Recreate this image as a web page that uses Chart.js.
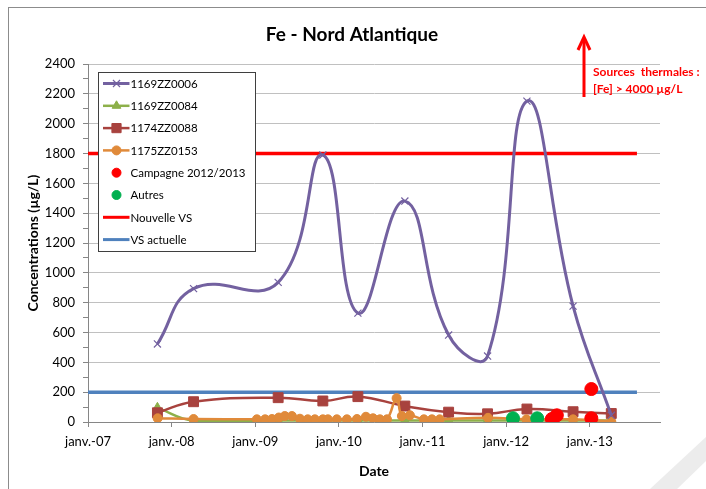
<!DOCTYPE html>
<html>
<head>
<meta charset="utf-8">
<script src="https://cdn.jsdelivr.net/npm/chart.js@4.4.1/dist/chart.umd.min.js"></script>
<style>
  html, body { margin: 0; padding: 0; background: #fff; }
  canvas { display: block; }
</style>
</head>
<body>
<canvas id="chart" width="706" height="489"></canvas>
<script>
const FONT = 'Lato, "Open Sans", "Liberation Sans", sans-serif';

// Sampling dates shared by the monitored wells 1169ZZ0006 / 1169ZZ0084 / 1174ZZ0088
const wellDates = ['2007-10-31', '2008-04-06', '2009-04-11', '2009-10-23', '2010-03-25',
                   '2010-10-16', '2011-04-25', '2011-10-12', '2012-04-01', '2012-10-20', '2013-04-05'];
const s1169ZZ0006 = [523, 894, 936, 1790, 730, 1481, 583, 442, 2151, 777, 45];
const s1169ZZ0084 = [95, 10, 10, 10, 10, 10, 10, 10, 10, 10, 10];
const s1174ZZ0088 = [62, 136, 163, 141, 170, 107, 66, 55, 87, 69, 57];

// 1175ZZ0153 was sampled much more often
const datesZZ0153 = ['2007-11-01', '2008-04-06', '2009-01-08', '2009-02-13', '2009-03-15', '2009-04-14',
                     '2009-05-10', '2009-06-10', '2009-07-15', '2009-08-18', '2009-09-18', '2009-10-23',
                     '2009-11-14', '2009-12-23', '2010-02-05', '2010-03-21', '2010-04-29', '2010-05-30',
                     '2010-06-29', '2010-07-30', '2010-09-10', '2010-10-03', '2010-11-07', '2011-01-07',
                     '2011-02-11', '2011-03-17', '2011-10-14', '2012-03-30', '2012-10-20', '2013-04-05'];
const s1175ZZ0153 = [25, 20, 18, 18, 20, 30, 40, 40, 22, 18, 18, 18,
                     18, 18, 18, 20, 35, 25, 18, 18, 160, 40, 45, 18,
                     18, 18, 28, 18, 18, 3];

// 2012/2013 campaign and other points
const campagneDates = ['2012-07-19', '2012-08-10', '2013-01-08', '2013-01-08'];
const campagneValues = [20, 45, 221, 25];
const autresDates = ['2012-01-31', '2012-05-16'];
const autresValues = [25, 25];

// Reference thresholds (VS)
const vsDates = ['2007-01-01', '2013-07-26'];
const nouvelleVS = [1800, 1800];
const vsActuelle = [200, 200];

// Axis ticks
const yearTicks = [2007, 2008, 2009, 2010, 2011, 2012, 2013];
const concTicks = [];
for (let v = 0; v <= 2400; v += 100) concTicks.push(v);

// ISO date -> fractional year, for the linear date axis
function decYear(s) {
  const d = new Date(s + 'T00:00:00Z');
  const y = d.getUTCFullYear();
  const a = Date.UTC(y, 0, 1), b = Date.UTC(y + 1, 0, 1);
  return y + (d.getTime() - a) / (b - a);
}
function pts(dates, values) {
  return dates.map((d, i) => ({ x: decYear(d), y: values[i] }));
}

const PURPLE = '#7361A0';
const GREEN = '#8DB04A';
const BROWN = '#A8423E';
const ORANGE = '#E08A3A';

const datasets = [
  { label: '1169ZZ0006', data: pts(wellDates, s1169ZZ0006), borderColor: PURPLE, backgroundColor: PURPLE,
    borderWidth: 3, tension: 0.45, pointStyle: 'crossRot', pointRadius: 5, pointBorderWidth: 1.2,
    pointBorderColor: PURPLE, pointBackgroundColor: PURPLE, order: 3 },
  { label: '1169ZZ0084', data: pts(wellDates, s1169ZZ0084), borderColor: GREEN, backgroundColor: GREEN,
    borderWidth: 2.5, tension: 0.45, pointStyle: 'triangle', pointRadius: 5.5, pointBorderWidth: 1,
    pointBorderColor: GREEN, pointBackgroundColor: GREEN, order: 6 },
  { label: '1174ZZ0088', data: pts(wellDates, s1174ZZ0088), borderColor: BROWN, backgroundColor: BROWN,
    borderWidth: 2.5, tension: 0.45, pointStyle: 'rect', pointRadius: 7, pointBorderWidth: 1,
    pointBorderColor: BROWN, pointBackgroundColor: BROWN, order: 5 },
  { label: '1175ZZ0153', data: pts(datesZZ0153, s1175ZZ0153), borderColor: ORANGE, backgroundColor: ORANGE,
    borderWidth: 2.5, tension: 0.45, pointStyle: 'circle', pointRadius: 4.5, pointBorderWidth: 1,
    pointBorderColor: ORANGE, pointBackgroundColor: ORANGE, order: 4 },
  { label: 'Campagne 2012/2013', data: pts(campagneDates, campagneValues), showLine: false,
    pointStyle: 'circle', pointRadius: 6.5, pointBorderWidth: 1, borderColor: '#FF0000',
    pointBorderColor: '#FF0000', pointBackgroundColor: '#FF0000', backgroundColor: '#FF0000', order: 1 },
  { label: 'Autres', data: pts(autresDates, autresValues), showLine: false,
    pointStyle: 'circle', pointRadius: 6.5, pointBorderWidth: 1, borderColor: '#00B050',
    pointBorderColor: '#00B050', pointBackgroundColor: '#00B050', backgroundColor: '#00B050', order: 1 },
  { label: 'Nouvelle VS', data: pts(vsDates, nouvelleVS), borderColor: '#FF0000', backgroundColor: '#FF0000',
    borderWidth: 3.5, pointRadius: 0, tension: 0, order: 8 },
  { label: 'VS actuelle', data: pts(vsDates, vsActuelle), borderColor: '#4F81BD', backgroundColor: '#4F81BD',
    borderWidth: 3.5, pointRadius: 0, tension: 0, order: 9 }
];

// Frame, watermark corner, title and thermal-springs note
const decorations = {
  id: 'decorations',
  beforeDraw(chart) {
    const ctx = chart.ctx;
    ctx.save();
    ctx.fillStyle = '#ffffff';
    ctx.fillRect(0, 0, chart.width, chart.height);
    ctx.fillStyle = '#ECECEC';
    ctx.beginPath();
    ctx.moveTo(650, 489); ctx.lineTo(706, 437); ctx.lineTo(706, 461); ctx.lineTo(677, 489);
    ctx.closePath(); ctx.fill();
    ctx.strokeStyle = '#8C8C8C';
    ctx.lineWidth = 1;
    ctx.strokeRect(8.5, 7.5, 720, 500);
    ctx.restore();
  },
  afterDraw(chart) {
    const ctx = chart.ctx;
    ctx.save();
    ctx.fillStyle = '#000';
    ctx.font = 'bold 19px ' + FONT;
    ctx.textAlign = 'center';
    ctx.textBaseline = 'middle';
    ctx.fillText('Fe - Nord Atlantique', 352, 35);

    // arrow
    ctx.strokeStyle = '#FF0000';
    ctx.lineWidth = 3;
    ctx.beginPath();
    ctx.moveTo(584, 97); ctx.lineTo(584, 38);
    ctx.stroke();
    ctx.beginPath();
    ctx.moveTo(578, 50); ctx.lineTo(584, 37); ctx.lineTo(590, 50);
    ctx.stroke();

    ctx.fillStyle = '#FF0000';
    ctx.font = 'bold 12px ' + FONT;
    ctx.textAlign = 'left';
    ctx.textBaseline = 'alphabetic';
    ctx.fillText('Sources  thermales :', 593, 76);
    ctx.fillText('[Fe] > 4000 \u00B5g/L', 593, 93);
    ctx.restore();
  }
};

// Boxed legend inside the plot area
const boxLegend = {
  id: 'boxLegend',
  afterDatasetsDraw(chart) {
    const ctx = chart.ctx;
    const L = 98.5, T = 72.5, W = 157, H = 179;
    ctx.save();
    ctx.fillStyle = '#ffffff';
    ctx.fillRect(L, T, W, H);
    ctx.strokeStyle = '#3F3F3F';
    ctx.lineWidth = 1;
    ctx.strokeRect(L, T, W, H);
    chart.data.datasets.forEach((ds, i) => {
      const cy = 83.5 + i * 22.3;
      if (ds.showLine !== false) {
        ctx.strokeStyle = ds.borderColor;
        ctx.lineWidth = Math.min(ds.borderWidth, 3);
        ctx.beginPath();
        ctx.moveTo(103, cy); ctx.lineTo(129.5, cy);
        ctx.stroke();
      }
      if (ds.pointRadius > 0) {
        ctx.fillStyle = ds.pointBackgroundColor;
        ctx.strokeStyle = ds.pointBorderColor;
        ctx.lineWidth = ds.pointBorderWidth || 1;
        const r = ds.pointStyle === 'rect' ? 6.5 : (ds.showLine === false ? 4.5 : Math.min(ds.pointRadius, 5));
        Chart.helpers.drawPoint(ctx, { pointStyle: ds.pointStyle, radius: r, rotation: 0,
          borderWidth: ds.pointBorderWidth || 1 }, 116.5, cy);
      }
      ctx.fillStyle = '#000';
      ctx.font = '11.5px ' + FONT;
      ctx.textAlign = 'left';
      ctx.textBaseline = 'middle';
      ctx.fillText(ds.label, 130.5, cy + 0.5);
    });
    ctx.restore();
  }
};

new Chart(document.getElementById('chart'), {
  type: 'line',
  data: { datasets },
  options: {
    responsive: false,
    animation: false,
    devicePixelRatio: 1,
    parsing: true,
    layout: { padding: { top: 64, left: 25, right: 46, bottom: 9 } },
    plugins: { legend: { display: false }, tooltip: { enabled: false }, title: { display: false } },
    scales: {
      x: {
        type: 'linear',
        min: 2007,
        max: 2013.84,
        afterFit(s) { s.height = 58; },
        afterBuildTicks(s) { s.ticks = yearTicks.map(v => ({ value: v })); },
        ticks: {
          autoSkip: false, maxRotation: 0, padding: 7, color: '#000',
          font: { family: FONT, size: 13 },
          callback: v => 'janv.-' + String(v).slice(2)
        },
        grid: { drawOnChartArea: false, tickLength: 5, color: '#868686', tickColor: '#868686' },
        border: { color: '#868686' },
        title: { display: true, text: 'Date', color: '#000', padding: 0,
                 font: { family: FONT, size: 14, weight: 'bold' } }
      },
      y: {
        min: 0,
        max: 2400,
        afterFit(s) { s.width = 63; },
        afterBuildTicks(s) { s.ticks = concTicks.map(v => ({ value: v })); },
        ticks: {
          autoSkip: false, padding: 8, color: '#000',
          font: { family: FONT, size: 13 },
          callback: v => (v % 200 === 0 ? String(v) : '')
        },
        grid: {
          color: c => (c.tick && c.tick.value % 200 === 0 ? '#C0C0C0' : 'rgba(0,0,0,0)'),
          tickColor: '#868686', tickLength: 5
        },
        border: { color: '#868686' },
        title: { display: true, text: 'Concentrations (\u00B5g/L)', color: '#000', padding: 0,
                 font: { family: FONT, size: 14, weight: 'bold' } }
      }
    }
  },
  plugins: [decorations, boxLegend]
});
</script>
</body>
</html>
